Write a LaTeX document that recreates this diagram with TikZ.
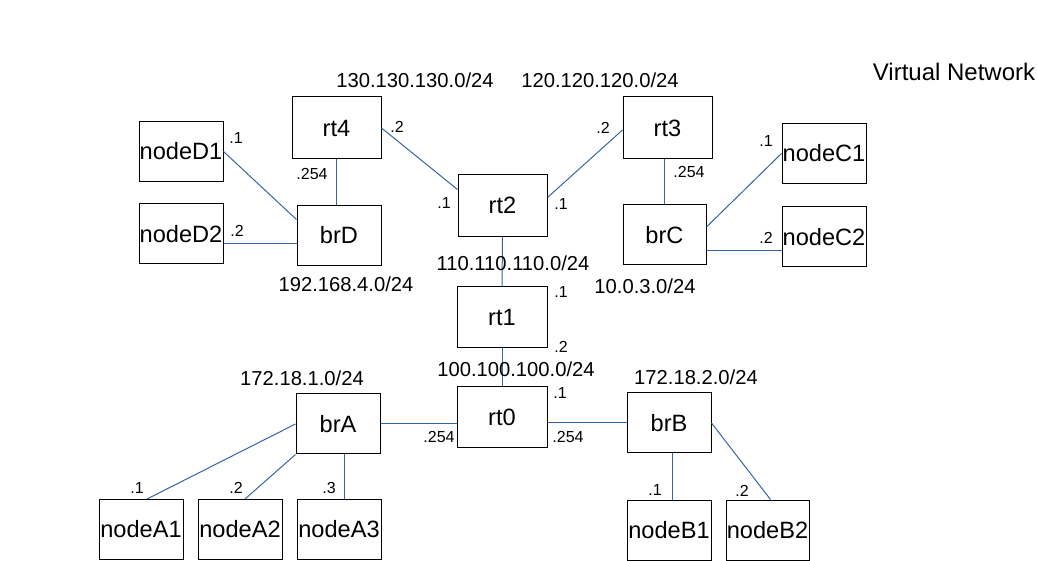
\documentclass[tikz,border=0pt]{standalone}
\usepackage{fontspec}
\setmainfont{Liberation Sans}
\usetikzlibrary{calc}
\definecolor{linkblue}{HTML}{3465A4}
\begin{document}
\begin{tikzpicture}[x=1pt,y=-1pt,
  box/.style={draw, line width=1pt, inner sep=0pt, minimum width=84pt, minimum height=60pt,
              font=\fontsize{23.6}{26}\selectfont},
  router/.style={box, minimum width=89pt, minimum height=62pt},
  link/.style={draw=linkblue, line width=1pt},
  addr/.style={inner sep=0pt, font=\fontsize{16}{18}\selectfont},
  net/.style={inner sep=0pt, font=\fontsize{20.2}{22}\selectfont}]
\useasboundingbox (0,0) rectangle (1037,561);

% routers
\node[router] (rt4) at (336.5,128) {rt4};
\node[router] (rt3) at (667.5,128) {rt3};
\node[router] (rt2) at (502.5,205.5) {rt2};
\node[router, minimum width=90pt, minimum height=61pt] (rt1) at (502,317.5) {rt1};
\node[router, minimum width=90pt, minimum height=61pt] (rt0) at (502,417.5) {rt0};

% bridges
\node[box] (brD) at (339,235.5) {brD};
\node[box, minimum width=83pt] (brC) at (664.5,235) {brC};
\node[box] (brA) at (338,424) {brA};
\node[box] (brB) at (669,423) {brB};

% hosts
\node[box] (nodeD1) at (181,151.5) {nodeD1};
\node[box] (nodeD2) at (181,234) {nodeD2};
\node[box] (nodeC1) at (824,153.5) {nodeC1};
\node[box] (nodeC2) at (824,237) {nodeC2};
\node[box] (nodeA1) at (141,529.5) {nodeA1};
\node[box] (nodeA2) at (240,529.5) {nodeA2};
\node[box] (nodeA3) at (339,529.5) {nodeA3};
\node[box] (nodeB1) at (669,530) {nodeB1};
\node[box, minimum width=83pt] (nodeB2) at (767.5,530) {nodeB2};

% links
\draw[link] (rt4.east) -- ($(rt2.west)+(0,-16)$);
\draw[link] ($(rt2.east)+(0,-8)$) -- ($(rt3.west)+(0,2)$);
\draw[link] (brC.north) -- (brC.north |- rt3.south);
\draw[link] ($(brC.east)+(0,-8)$) -- (nodeC1.west);
\draw[link] ($(brC.east)+(0,16)$) coordinate (c2) -- (c2 -| nodeC2.west);
\draw[link] (rt4.south) -- (rt4.south |- brD.north);
\draw[link] (nodeD1.east) -- ($(brD.west)+(0,-16)$);
\draw[link] ($(brD.west)+(0,8)$) coordinate (d2) -- (d2 -| nodeD2.east);
\draw[link] (rt2.south) -- (rt1.north);
\draw[link] (rt1.south) -- (rt0.north);
\draw[link] (brA.east) -- (brA.east -| rt0.west);
\draw[link] (brB.west) -- (brB.west -| rt0.east);
\draw[link] (brA.west) -- ($(nodeA1.north)+(6,0)$);
\draw[link] (brA.south west) -- ($(nodeA2.north)+(5,0)$);
\draw[link] ($(brA.south)+(6,0)$) coordinate (a3) -- (a3 |- nodeA3.north);
\draw[link] ($(brB.south)+(3,0)$) coordinate (b1) -- (b1 |- nodeB1.north);
\draw[link] (brB.east) -- ($(nodeB2.north)+(3,0)$);

% interface addresses
\node[addr] (aD1) at (236,138) {.1};
\node[addr] (aD2) at (237,231) {.2};
\node[addr] (a4s) at (312,174) {.254};
\node[addr] (a4e) at (397,127) {.2};
\node[addr] (a2w) at (444,203) {.1};
\node[addr] (a2e) at (561,204) {.1};
\node[addr] (a3w) at (603,128) {.2};
\node[addr] (a3s) at (689,172) {.254};
\node[addr] (aC1) at (766,141) {.1};
\node[addr] (aC2) at (766,238) {.2};
\node[addr] (a1n) at (561,292) {.1};
\node[addr] (a1s) at (561,347) {.2};
\node[addr] (a0n) at (560,393) {.1};
\node[addr] (a0w) at (439,437) {.254};
\node[addr] (a0e) at (568,437) {.254};
\node[addr] (aA1) at (137,488) {.1};
\node[addr] (aA2) at (236,488) {.2};
\node[addr] (aA3) at (329,488) {.3};
\node[addr] (aB1) at (655,490) {.1};
\node[addr] (aB2) at (742,491) {.2};

% networks
\node[net] (n130) at (415,80) {130.130.130.0/24};
\node[net] (n120) at (600,80) {120.120.120.0/24};
\node[net] (n192) at (346,284) {192.168.4.0/24};
\node[net] (n110) at (513,263) {110.110.110.0/24};
\node[net] (n10) at (645,286) {10.0.3.0/24};
\node[net] (n100) at (516,369) {100.100.100.0/24};
\node[net] (n1721) at (302,378) {172.18.1.0/24};
\node[net] (n1722) at (696,377) {172.18.2.0/24};

\node[inner sep=0pt, font=\fontsize{24}{26}\selectfont] (title) at (954,72) {Virtual Network};
\end{tikzpicture}
\end{document}
